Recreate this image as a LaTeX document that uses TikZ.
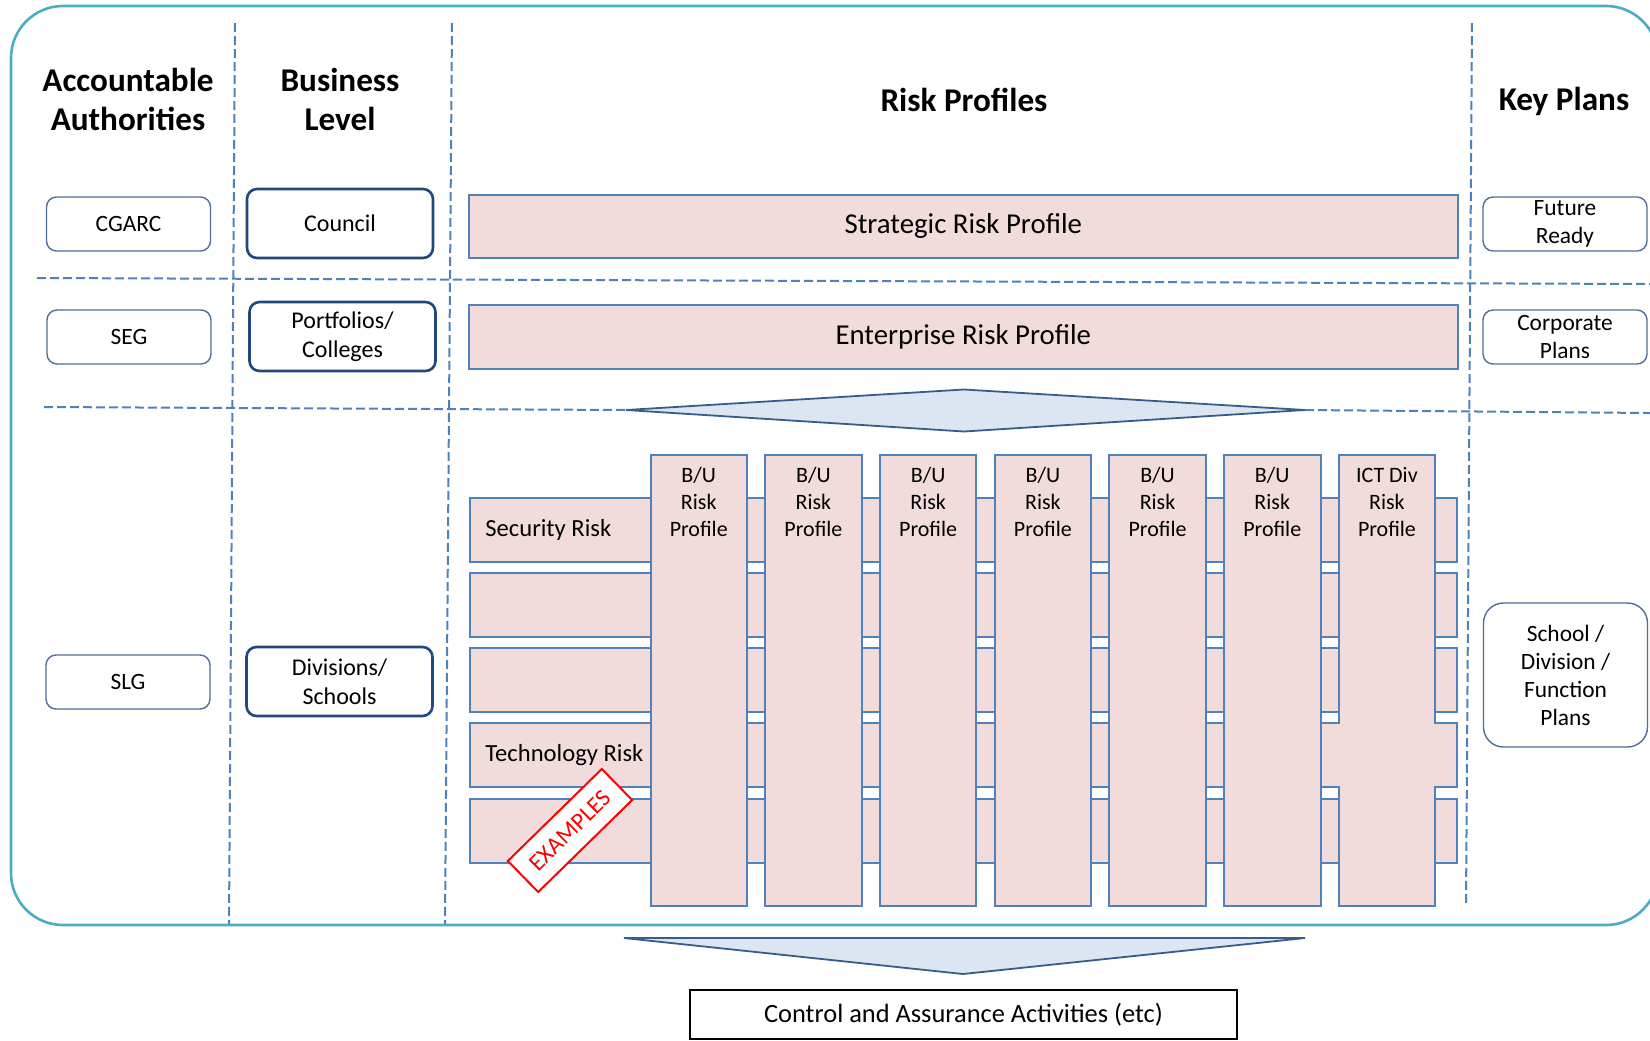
\documentclass[tikz,border=0pt]{standalone}
\usepackage{fontspec}
\setmainfont{Carlito}

\definecolor{framecol}{RGB}{75,172,198}
\definecolor{dashcol}{RGB}{79,129,189}
\definecolor{riskfill}{RGB}{242,220,219}
\definecolor{riskline}{RGB}{79,129,189}
\definecolor{boxline}{RGB}{80,110,150}
\definecolor{levelline}{RGB}{31,73,125}
\definecolor{arrowfill}{RGB}{220,230,242}
\definecolor{arrowline}{RGB}{56,93,138}
\definecolor{stampred}{RGB}{255,0,0}

\def\unit{0.5pt}

\begin{document}
\begin{tikzpicture}[x=\unit, y=-\unit,
    heading/.style={font=\fontsize{16.6}{19.5}\selectfont\bfseries, align=center},
    authbox/.style={draw=boxline, line width=0.7pt, rounded corners=5pt, fill=white, align=center,
      font=\fontsize{11.7}{14}\selectfont, inner sep=0pt, minimum width=82pt, minimum height=27pt},
    levelbox/.style={draw=levelline, line width=1.3pt, rounded corners=5pt, fill=white, align=center,
      font=\fontsize{12}{14.7}\selectfont, inner sep=0pt, minimum width=93pt, minimum height=34.5pt},
    riskbar/.style={draw=riskline, fill=riskfill, line width=1pt, minimum width=494.25pt,
      inner sep=0pt, font=\fontsize{14.4}{17}\selectfont},
    riskrow/.style={draw=riskline, fill=riskfill, line width=1pt, minimum width=493.75pt,
      minimum height=32pt, inner sep=0pt},
    rowlabel/.style={anchor=west, inner sep=0pt, font=\fontsize{12.3}{14}\selectfont},
    bucol/.style={draw=riskline, fill=riskfill, line width=1pt, minimum width=48.25pt,
      minimum height=225.5pt, inner sep=0pt},
    bulabel/.style={align=center, inner sep=0pt, font=\fontsize{11}{13.5}\selectfont},
    gridline/.style={dashcol, line width=1pt, dash pattern=on 4.5pt off 2pt},
    chevron/.style={draw=arrowline, fill=arrowfill, line width=0.9pt, line join=miter},
    stamp/.style={draw=stampred, fill=white, line width=1pt, rotate=44.4, minimum width=65.75pt,
      minimum height=21.7pt, inner sep=0pt, text=stampred, font=\fontsize{12}{14}\selectfont}
  ]
  \useasboundingbox (0,0) rectangle (1650,1040);

  % frame and dashed grid
  \draw[framecol, line width=1.3pt, rounded corners=26pt] (11,6) rectangle (1658,925);
  \draw[gridline] (235,23) -- (229,924);
  \draw[gridline] (452,23) -- (445,924);
  \draw[gridline] (1472,23) -- (1466,906);
  \draw[gridline] (37,278) -- (1650,284);
  \draw[gridline] (44,407) -- (626,410);
  \draw[gridline] (1305,410) -- (1650,413);

  % column headings
  \node[heading] (hAuth) at (128, 99) {Accountable\\Authorities};
  \node[heading] (hLevel) at (340, 99) {Business\\Level};
  \node[heading] (hRisk) at (964, 100) {Risk Profiles};
  \node[heading] (hPlans) at (1564, 101) {Key Plans};

  \node[authbox] (aCgarc) at (128.5, 224) {CGARC};
  \node[authbox] (aSeg) at (129, 337) {SEG};
  \node[authbox] (aSlg) at (128, 682) {SLG};
  \node[levelbox] (lCouncil) at (340, 223.5) {Council};
  \node[levelbox] (lPortfolio) at (342.5, 336.5) {Portfolios/\\Colleges};
  \node[levelbox] (lDivision) at (339.5, 681.5) {Divisions/\\Schools};
  \node[authbox] (kFuture) at (1565, 224) {Future\\Ready};
  \node[authbox] (kCorporate) at (1565, 337) {Corporate\\Plans};
  \node[authbox, minimum height=72pt, rounded corners=10pt] (kSchool) at (1565.5, 675)
    {School /\\Division /\\Function\\Plans};

  \node[riskbar, minimum height=31.25pt] (pStrategic) at (963.25, 226.25) {Strategic Risk Profile};
  \node[riskbar, minimum height=32pt] (pEnterprise) at (963.25, 336.5) {Enterprise Risk Profile};
  \draw[chevron] (626,410) -- (964,389.5) -- (1305,410) -- (964,431.5) -- cycle;

  % risk rows
  \node[riskrow] (rSecurity) at (963.25, 530) {};
  \node[riskrow] (rRow2) at (963.25, 605) {};
  \node[riskrow] (rRow3) at (963.25, 680) {};
  \node[riskrow] (rTechnology) at (963.25, 755) {};
  \node[riskrow] (rRow5) at (963.25, 830.5) {};
  \node[rowlabel] (tSecurity) at (485, 530) {Security Risk};
  \node[rowlabel] (tTechnology) at (485, 755) {Technology Risk};
  \node[stamp] (stamp) at (570, 830.5) {EXAMPLES};

  % business unit columns
  \node[bucol] (cBu1) at (698.75, 680.5) {};
  \node[bucol] (cBu2) at (813.45, 680.5) {};
  \node[bucol] (cBu3) at (928.15, 680.5) {};
  \node[bucol] (cBu4) at (1042.85, 680.5) {};
  \node[bucol] (cBu5) at (1157.55, 680.5) {};
  \node[bucol] (cBu6) at (1272.25, 680.5) {};
  \draw[riskline, fill=riskfill, line width=1pt] (1338.7,455) -- (1435.2,455) -- (1435.2,723)
    -- (1457,723) -- (1457,787) -- (1435.2,787) -- (1435.2,906) -- (1338.7,906) -- (1338.7,787)
    -- (1320.5,787) -- (1320.5,723) -- (1338.7,723) -- cycle;
  \node[bulabel] (tBu1) at (698.75, 502) {B/U\\Risk\\Profile};
  \node[bulabel] (tBu2) at (813.45, 502) {B/U\\Risk\\Profile};
  \node[bulabel] (tBu3) at (928.15, 502) {B/U\\Risk\\Profile};
  \node[bulabel] (tBu4) at (1042.85, 502) {B/U\\Risk\\Profile};
  \node[bulabel] (tBu5) at (1157.55, 502) {B/U\\Risk\\Profile};
  \node[bulabel] (tBu6) at (1272.25, 502) {B/U\\Risk\\Profile};
  \node[bulabel] (tIct) at (1386.95, 502) {ICT Div\\Risk\\Profile};

  \draw[chevron] (624,938) -- (1305,938) -- (963,974) -- cycle;
  \node[draw=black, line width=0.9pt, minimum width=273.5pt, minimum height=24.5pt, inner sep=0pt,
    font=\fontsize{13.2}{15}\selectfont] (ctrl) at (963.5, 1014.5) {Control and Assurance Activities (etc)};
\end{tikzpicture}
\end{document}
